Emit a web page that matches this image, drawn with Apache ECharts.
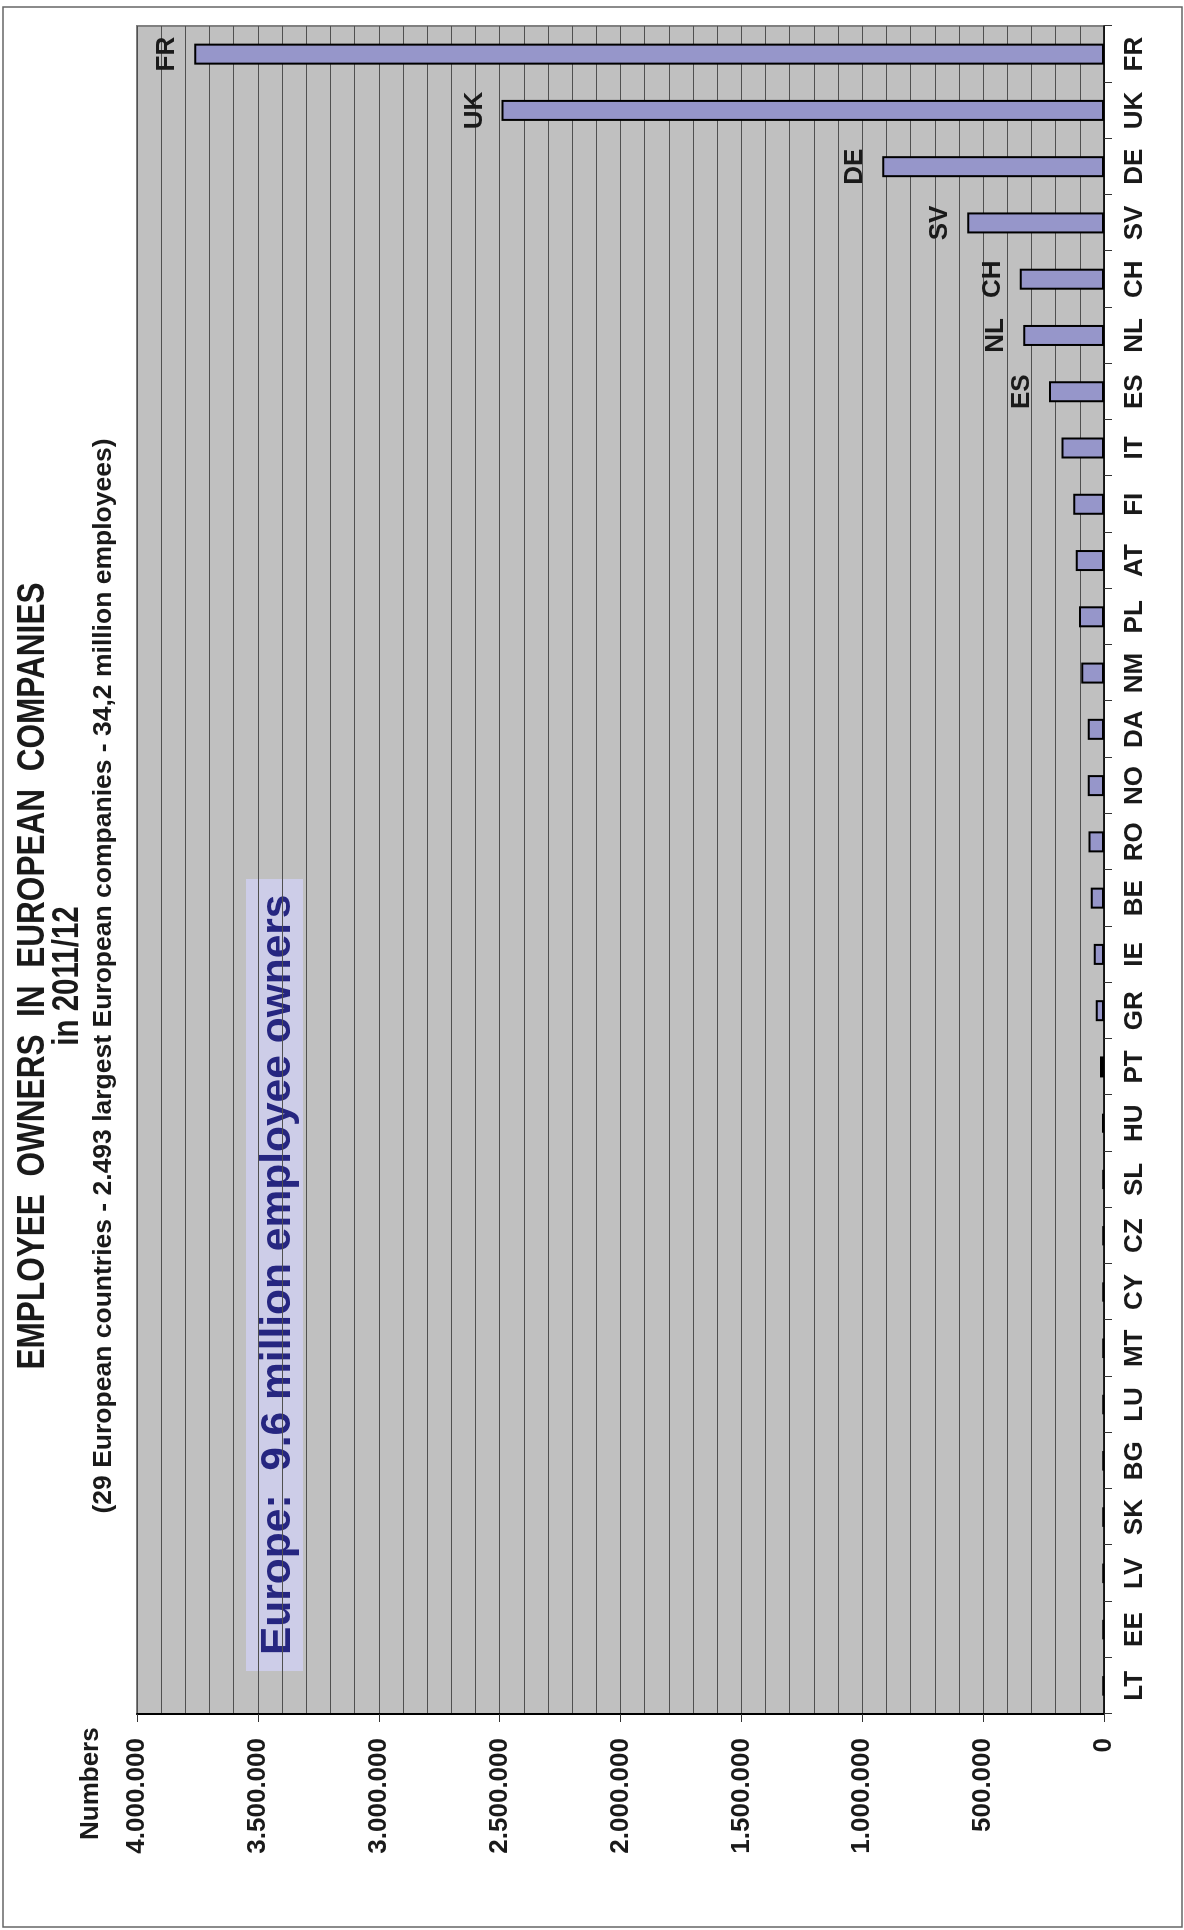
<!DOCTYPE html>
<html>
<head>
<meta charset="utf-8">
<title>Employee owners in European companies</title>
<script src="https://cdn.jsdelivr.net/npm/echarts@6/dist/echarts.min.js"></script>
<style>
  html, body { margin: 0; padding: 0; background: #fff; overflow: hidden; }
  /* the chart is drawn landscape and turned a quarter turn, like the original page */
  #chart {
    position: absolute;
    left: 0;
    top: 0;
    width: 1930px;
    height: 1184px;
    transform-origin: 0 0;
    transform: translate(0, 1930px) rotate(-90deg);
  }
</style>
</head>
<body>
<div id="chart"></div>
<script>
// countries, largest first
var countries = ['FR', 'UK', 'DE', 'SV', 'CH', 'NL', 'ES', 'IT', 'FI', 'AT', 'PL', 'NM', 'DA', 'NO', 'RO',
  'BE', 'IE', 'GR', 'PT', 'HU', 'SL', 'CZ', 'CY', 'MT', 'LU', 'BG', 'SK', 'LV', 'EE', 'LT']
// employee owners per country
var owners = [3763000, 2492000, 917000, 566000, 349000, 334000, 227000, 176000, 127000, 117000, 103000, 94000, 67000, 67000, 64000,
  55000, 42000, 34000, 17000, 8000, 7000, 7000, 7000, 6000, 6000, 6000, 6000, 6000, 6000, 6000]
// countries named next to their bar
var labelledBars = ['FR', 'UK', 'DE', 'SV', 'CH', 'NL', 'ES']
var valueTicks = { min: 0, max: 4000000, step: 500000 }

var titleLines = [
  'EMPLOYEE  OWNERS  IN  EUROPEAN  COMPANIES',
  'in 2011/12',
  '(29 European countries - 2.493 largest European companies - 34,2 million employees)'
]
var boxText = 'Europe:  9.6 million employee owners'

var sans = "'Liberation Sans', Arial, sans-serif"

function dots (n) { // 4000000 -> 4.000.000
  return String(n).replace(/\B(?=(\d{3})+(?!\d))/g, '.')
}

var myChart = echarts.init(document.getElementById('chart'))

var option = {
  backgroundColor: '#fff',
  animation: false,
  title: {
    text: titleLines[2],
    left: 954,
    top: 90,
    padding: 0,
    textAlign: 'center',
    textStyle: { fontFamily: sans, fontWeight: 'bold', fontSize: 26.5, color: '#1a1a1a' }
  },
  grid: {
    left: 216,
    right: 26,
    top: 137,
    bottom: 80,
    show: true,
    backgroundColor: '#c0c0c0',
    borderColor: '#808080',
    borderWidth: 2
  },
  xAxis: {
    type: 'category',
    data: countries,
    inverse: true,
    axisLine: { lineStyle: { color: '#000', width: 1.5 } },
    axisTick: { show: true, length: 8, lineStyle: { color: '#333' } },
    axisLabel: {
      interval: 0,
      margin: 18,
      fontFamily: sans,
      fontWeight: 'bold',
      fontSize: 26,
      color: '#1a1a1a'
    }
  },
  yAxis: {
    type: 'value',
    min: valueTicks.min,
    max: valueTicks.max,
    interval: valueTicks.step,
    axisLine: { show: true, lineStyle: { color: '#000', width: 2 } },
    axisTick: { show: true, length: 8, lineStyle: { color: '#333' } },
    axisLabel: {
      margin: 24,
      fontFamily: sans,
      fontWeight: 'bold',
      fontSize: 26,
      color: '#1a1a1a',
      formatter: dots
    },
    splitLine: { show: true, lineStyle: { color: '#505050', width: 1 } },
    minorTick: { show: false, splitNumber: 5 },
    minorSplitLine: { show: true, lineStyle: { color: '#505050', width: 1 } }
  },
  series: [{
    name: 'Employee owners',
    type: 'bar',
    barWidth: 21,
    data: owners.map(function (v, i) {
      return { value: v, label: { show: labelledBars.indexOf(countries[i]) >= 0 } }
    }),
    itemStyle: { color: '#9696ca', borderColor: '#000', borderWidth: 2 },
    label: {
      position: 'top',
      distance: 14,
      fontFamily: sans,
      fontWeight: 'bold',
      fontSize: 26,
      color: '#1a1a1a',
      formatter: function (p) { return p.name }
    }
  }],
  graphic: [{
    // outer frame of the chart sheet
    type: 'rect',
    shape: { x: 3, y: 3, width: 1920, height: 1179 },
    style: { fill: null, stroke: '#666', lineWidth: 1.5 },
    silent: true,
    z: 0
  }, {
    // main title, set in a narrow bold face
    type: 'text',
    x: 954,
    y: 33,
    scaleX: 0.82,
    style: {
      text: titleLines[0],
      fontFamily: sans,
      fontWeight: 'bold',
      fontSize: 38.5,
      fill: '#1a1a1a',
      textAlign: 'center',
      textVerticalAlign: 'middle'
    }
  }, {
    type: 'text',
    x: 954,
    y: 68,
    scaleX: 0.82,
    style: {
      text: titleLines[1],
      fontFamily: sans,
      fontWeight: 'bold',
      fontSize: 36,
      fill: '#1a1a1a',
      textAlign: 'center',
      textVerticalAlign: 'middle'
    }
  }, {
    type: 'text',
    x: 90,
    y: 91,
    style: {
      text: 'Numbers',
      fontFamily: sans,
      fontWeight: 'bold',
      fontSize: 26,
      fill: '#1a1a1a',
      textAlign: 'left',
      textVerticalAlign: 'middle'
    }
  }, {
    type: 'group',
    z: 100,
    children: [{
      type: 'rect',
      shape: { x: 259, y: 246, width: 792, height: 57 },
      style: { fill: '#cdcde8' }
    }, {
      type: 'text',
      x: 275,
      y: 278,
      style: {
        text: boxText,
        fontFamily: sans,
        fontWeight: 'bold',
        fontSize: 42.5,
        fill: '#262680',
        textAlign: 'left',
        textVerticalAlign: 'middle'
      }
    }]
  }]
}

myChart.setOption(option)
</script>
</body>
</html>
